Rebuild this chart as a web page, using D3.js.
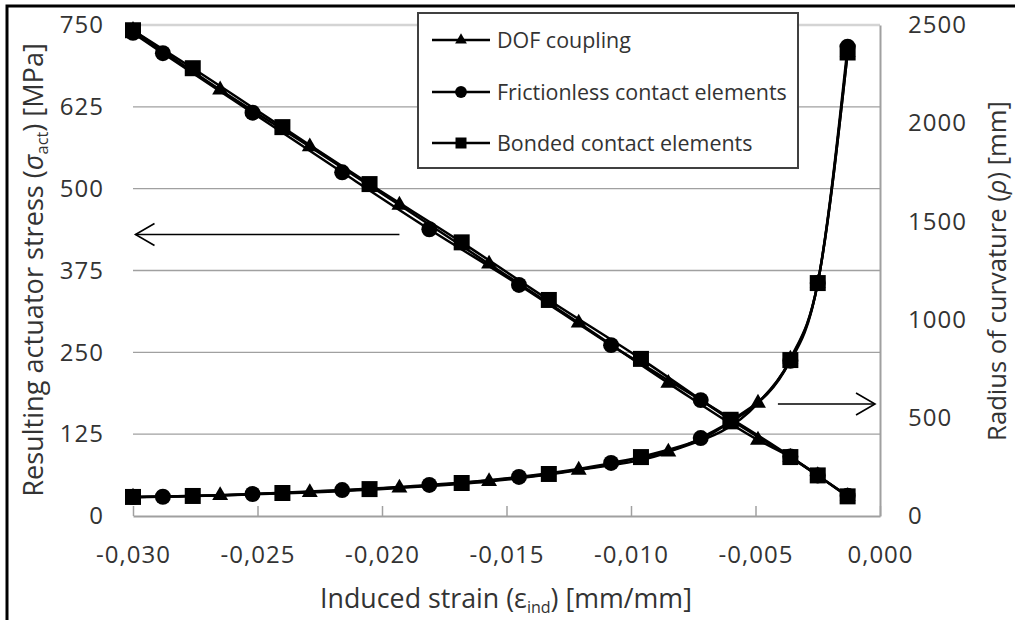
<!DOCTYPE html>
<html><head><meta charset="utf-8">
<script src="https://cdn.jsdelivr.net/npm/d3@7"></script>
<style>
body{margin:0;background:#fff}
svg{display:block}
text{font-family:"Open Sans",sans-serif;fill:#333}
</style>
</head><body>
<svg id="c" width="1015" height="620"></svg>
<script>
// ---------- data ----------
const xTickValues = [-0.030, -0.025, -0.020, -0.015, -0.010, -0.005, 0.000];
const leftTickValues = [0, 125, 250, 375, 500, 625, 750];
const rightTickValues = [0, 500, 1000, 1500, 2000, 2500];
const seriesNames = ["DOF coupling", "Frictionless contact elements", "Bonded contact elements"];

const dofStrain  = [-0.0300, -0.0265, -0.0229, -0.0193, -0.0157, -0.0121, -0.0085, -0.0049, -0.0036, -0.0025, -0.0013];
const dofStress  = [742, 651, 564, 475, 385, 295, 203, 116, 90, 62, 30];
const dofRadius  = [97, 105, 120, 143, 176, 234, 326, 575, 800, 1186, 2360];

const fricStrain = [-0.0300, -0.0288, -0.0252, -0.0216, -0.0181, -0.0145, -0.0108, -0.0072, -0.0036, -0.0025, -0.0013];
const fricStress = [738, 707, 616, 525, 438, 353, 261, 177, 91, 62, 31];
const fricRadius = [96, 98, 112, 132, 158, 199, 270, 397, 790, 1186, 2390];

const bondStrain = [-0.0300, -0.0276, -0.0240, -0.0205, -0.0168, -0.0133, -0.0096, -0.0060, -0.0036, -0.0025, -0.0013];
const bondStress = [742, 684, 594, 507, 418, 330, 240, 147, 90, 62, 30];
const bondRadius = [97, 102, 117, 137, 168, 214, 300, 482, 794, 1186, 2360];

// annotation arrows (data coords)
const leftArrowStrain = [-0.0193, -0.0299];
const leftArrowStress = [430, 430];
const rightArrowStrain = [-0.0041, -0.0002];
const rightArrowRadius = [570, 570];

// ---------- setup ----------
const svg = d3.select("#c");
const P = {l:133, r:880, t:25, b:516};
const x = d3.scaleLinear([-0.030, 0], [P.l, P.r]);
const yL = d3.scaleLinear([0, 750], [P.b, P.t]);
const yR = d3.scaleLinear([0, 2500], [P.b, P.t]);
const loc = d3.formatLocale({decimal:",", thousands:"", grouping:[3], currency:["",""], minus:"-"});
const fx = loc.format(".3f");
const fi = loc.format("d");
const GRID = "#a0a0a0";

// outer frame (top & left visible)
svg.append("rect").attr("x",7).attr("y",6).attr("width",1040).attr("height",640)
  .attr("fill","none").attr("stroke","#000").attr("stroke-width",3);

// gridlines
svg.append("g").selectAll("line").data(leftTickValues.filter(d=>d>0)).join("line")
  .attr("x1",P.l).attr("x2",P.r).attr("y1",d=>yL(d)).attr("y2",d=>yL(d))
  .attr("stroke",d=>d===750?"#d4d4d4":GRID).attr("stroke-width",d=>d===750?2.5:1.4);

// bottom axis
const gx = svg.append("g").attr("transform",`translate(0,${P.b})`)
  .call(d3.axisBottom(x).tickValues(xTickValues).tickFormat(fx).tickSize(-10).tickSizeOuter(0));
gx.select(".domain").attr("stroke",GRID).attr("stroke-width",2);
gx.selectAll(".tick line").attr("stroke",GRID).attr("stroke-width",1.5);
gx.selectAll(".tick text").attr("y",39).attr("dy","0.35em").attr("class","tick-label");

// left axis
const gl = svg.append("g").attr("transform",`translate(${P.l},0)`)
  .call(d3.axisLeft(yL).tickValues(leftTickValues).tickFormat(fi).tickSize(0).tickPadding(29));
gl.select(".domain").remove();
gl.selectAll(".tick text").attr("class","tick-label");

// right axis
const gr = svg.append("g").attr("transform",`translate(${P.r},0)`)
  .call(d3.axisRight(yR).tickValues(rightTickValues).tickFormat(fi).tickSize(0).tickSizeOuter(0).tickPadding(28));
gr.select(".domain").attr("stroke",GRID).attr("stroke-width",2);
gr.selectAll(".tick text").attr("class","tick-label");

svg.selectAll(".tick-label").style("font-family",'"Open Sans",sans-serif')
  .style("font-size","24px").style("letter-spacing","1px").attr("fill","#333");

// ---------- series ----------
const series = [
  {name:seriesNames[0], strain:dofStrain,  stress:dofStress,  radius:dofRadius,  sym:d3.symbolTriangle, size:110, lsize:60},
  {name:seriesNames[1], strain:fricStrain, stress:fricStress, radius:fricRadius, sym:d3.symbolCircle,   size:200, lsize:110},
  {name:seriesNames[2], strain:bondStrain, stress:bondStress, radius:bondRadius, sym:d3.symbolSquare,   size:256, lsize:121}
];

const lineL = d3.line().x(d=>x(d[0])).y(d=>yL(d[1])).curve(d3.curveMonotoneX);
const lineR = d3.line().x(d=>x(d[0])).y(d=>yR(d[1])).curve(d3.curveMonotoneX);

series.forEach(s=>{
  const pl = s.strain.map((e,i)=>[e, s.stress[i]]);
  const pr = s.strain.map((e,i)=>[e, s.radius[i]]);
  svg.append("path").attr("d",lineL(pl)).attr("fill","none").attr("stroke","#000").attr("stroke-width",2.5);
  svg.append("path").attr("d",lineR(pr)).attr("fill","none").attr("stroke","#000").attr("stroke-width",2.5);
});
series.forEach(s=>{
  const sym = d3.symbol().type(s.sym).size(s.size);
  const pts = s.strain.map((e,i)=>[e, s.stress[i], s.radius[i]]);
  const g = svg.append("g");
  g.selectAll(".a").data(pts).join("path").attr("class","a").attr("d",sym)
    .attr("transform",d=>`translate(${x(d[0])},${yL(d[1])})`).attr("fill","#000");
  g.selectAll(".b").data(pts).join("path").attr("class","b").attr("d",sym)
    .attr("transform",d=>`translate(${x(d[0])},${yR(d[2])})`).attr("fill","#000");
});

// ---------- arrows ----------
function arrow(x0,y0,x1,y1){
  const g = svg.append("g").attr("stroke","#000").attr("stroke-width",1.6).attr("fill","none");
  g.append("line").attr("x1",x0).attr("y1",y0).attr("x2",x1).attr("y2",y1);
  const dir = Math.sign(x1-x0);
  g.append("polyline").attr("points",`${x1-dir*19},${y1-11} ${x1},${y1} ${x1-dir*19},${y1+11}`);
}
arrow(x(leftArrowStrain[0]), yL(leftArrowStress[0]), x(leftArrowStrain[1]), yL(leftArrowStress[1]));
arrow(x(rightArrowStrain[0]), yR(rightArrowRadius[0]), x(rightArrowStrain[1]), yR(rightArrowRadius[1]));

// ---------- legend ----------
const lg = svg.append("g");
lg.append("rect").attr("x",418).attr("y",13).attr("width",380).attr("height",155)
  .attr("fill","#fff").attr("stroke","#404040").attr("stroke-width",2);
const rowY = [40, 92, 143];
const legendTexts = [];
series.forEach((s,i)=>{
  lg.append("line").attr("x1",432).attr("x2",490).attr("y1",rowY[i]).attr("y2",rowY[i])
    .attr("stroke","#000").attr("stroke-width",2.5);
  lg.append("path").attr("d",d3.symbol().type(s.sym).size(s.lsize))
    .attr("transform",`translate(461,${rowY[i]})`).attr("fill","#000");
  legendTexts.push(lg.append("text").attr("x",497).attr("y",rowY[i]).attr("dy","0.35em")
    .style("font-size","19px").text(s.name));
});

// ---------- titles ----------
function fit(sel, target){
  const w = sel.node().getComputedTextLength();
  const fs = parseFloat(sel.style("font-size"));
  sel.style("font-size", (fs*target/w)+"px");
  return fs*target/w;
}
const lfs = fit(legendTexts[1], 290);
legendTexts.forEach(t=>t.style("font-size",lfs+"px"));

const xt = svg.append("text").attr("x",506).attr("y",599).attr("dy","0.35em")
  .attr("text-anchor","middle").style("font-size","22px");
xt.append("tspan").text("Induced strain (");
xt.append("tspan").text("ε");
xt.append("tspan").attr("dy",5).style("font-size","60%").text("ind");
xt.append("tspan").attr("dy",-5).text(") [mm/mm]");
fit(xt, 372);

const lt = svg.append("text").attr("transform","translate(33,270) rotate(-90)").attr("dy","0.35em")
  .attr("text-anchor","middle").style("font-size","22px");
lt.append("tspan").text("Resulting actuator stress (");
lt.append("tspan").style("font-style","italic").text("σ");
lt.append("tspan").attr("dy",5).style("font-size","60%").text("act");
lt.append("tspan").attr("dy",-5).text(") [MPa]");
fit(lt, 454);

const rt = svg.append("text").attr("transform","translate(997,271) rotate(-90)").attr("dy","0.35em")
  .attr("text-anchor","middle").style("font-size","22px");
rt.append("tspan").text("Radius of curvature (");
rt.append("tspan").style("font-style","italic").text("ρ");
rt.append("tspan").text(") [mm]");
fit(rt, 340);
</script>
</body></html>
